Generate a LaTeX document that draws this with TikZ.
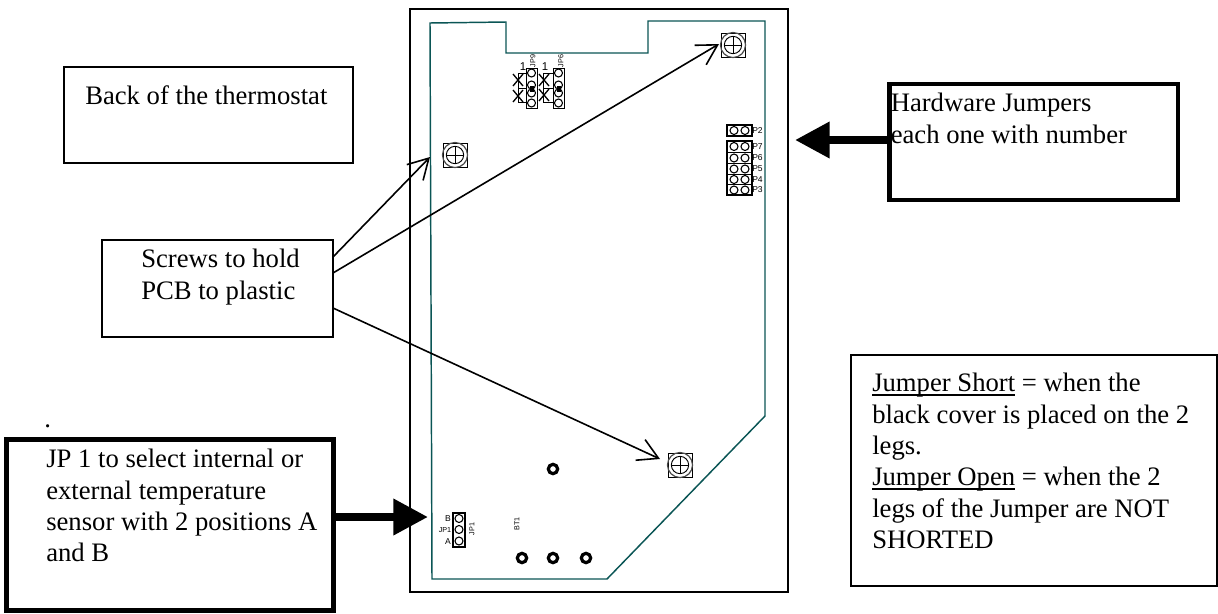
\documentclass[tikz,border=0pt]{standalone}
\usepackage{fontspec}
\setmainfont{Liberation Serif}
\setsansfont{Liberation Sans}
\usetikzlibrary{arrows.meta}
\definecolor{pcb}{RGB}{10,85,85}
\tikzset{
  x=0.75pt,y=-0.75pt,
  thinbox/.style={draw=black,line width=1.2pt,inner sep=0,outer sep=0,fill=white},
  thickbox/.style={draw=black,line width=3.4pt,inner sep=0,outer sep=0,fill=white},
  label/.style={inner sep=0,anchor=north west,align=left,font=\fontsize{20}{23.5}\selectfont},
  pointer/.style={draw=black,line width=1.2pt,-{Straight Barb[length=15pt,width=17pt,line width=1.2pt]}},
  bigpointer/.style={draw=black,line width=6pt,-{Triangle[length=26pt,width=26pt,fill=black]}},
  pcbline/.style={draw=pcb,line width=1.1pt},
  part/.style={draw=black,line width=0.7pt},
  pin/.style={draw=black,line width=0.8pt,circle,minimum size=6pt,inner sep=0},
  hole/.style={draw=black,line width=2.4pt,circle,minimum size=7pt,inner sep=0},
  silk/.style={inner sep=0,font=\sffamily\fontsize{5.4}{6}\selectfont},
  silkb/.style={inner sep=0,font=\sffamily\fontsize{6.4}{7}\selectfont},
  xmark/.style={draw=black,line width=1pt},
}
\newcommand{\heavyul}[1]{\setbox0\hbox{#1}\rlap{\vrule height -1.8pt depth 3pt width\wd0}\box0\relax}
\newcommand{\screw}[3]{%
  \draw[part] (#2-12,#3-12) rectangle (#2+12,#3+12);
  \draw[draw=black!70,line width=0.9pt] (#2,#3) circle[radius=9.4pt];
  \node[draw=black,line width=0.7pt,circle,minimum size=13pt,inner sep=0] (#1) at (#2,#3) {};
  \draw[part] (#2,#3-9) -- (#2,#3+9) (#2-9,#3) -- (#2+9,#3);
}
\newcommand{\crossmark}[2]{\draw[xmark] (#1-5,#2-6) -- (#1+5,#2+6) (#1-5,#2+6) -- (#1+5,#2-6);}
\newcommand{\pinrow}[2]{%
  \node[pin] at (734,#1) {};\node[pin] at (745,#1) {};
  \node[silkb,anchor=west] at (752,#1) {#2};
}
\begin{document}
\begin{tikzpicture}
\useasboundingbox (0,0) rectangle (1218,614);
% enclosure and PCB outline
\draw[line width=1.2pt] (410,9) rectangle (788,592);
\draw[pcbline] (430,23) -- (506,22) -- (506,53) -- (648,53) -- (648,21) -- (765,21) -- (765,416) -- (607,579) -- (432,579) -- cycle;
% screws
\screw{s1}{455}{155}
\screw{s2}{733}{45}
\screw{s3}{680}{465}
% holes
\node[hole] (h1) at (553,469) {};
\node[hole] (h2) at (522,558) {};
\node[hole] (h3) at (553,558) {};
\node[hole] (h4) at (586,558) {};
\node[silk,rotate=90] (bt) at (517,524) {BT1};
% JP9 and JP6
\draw[part] (526,68) rectangle (537,108);
\draw[part] (553,68) rectangle (564,108);
\draw[part] (518,73) -- (526,73) (518,88) -- (526,88) (518,102) -- (526,102) (518,73) -- (518,102);
\draw[part] (543,73) -- (553,73) (543,88) -- (553,88) (543,102) -- (553,102) (543,73) -- (543,102);
\foreach \cx in {531.5,558.5}{
  \node[pin] at (\cx,73) {};
  \node[pin] at (\cx,85) {};
  \node[pin] at (\cx,103) {};
  \node[pin] at (\cx,93) {};
  \draw[black,line width=3pt] (\cx,86) -- (\cx,92);
}
\crossmark{518}{80}\crossmark{518}{96}\crossmark{544}{80}\crossmark{544}{95}
\node[silk,rotate=90] (j9) at (533,61) {JP9};
\node[silk,rotate=90] (j6) at (561,61) {JP6};
\node[silk,font=\sffamily\fontsize{8.5}{9}\selectfont] (o1) at (523,67) {1};
\node[silk,font=\sffamily\fontsize{8.5}{9}\selectfont] (o2) at (545,67) {1};
% P block
\draw[part,line width=0.9pt] (727,125) rectangle (752,136);
\draw[part,line width=0.9pt] (727,141) rectangle (752,195);
\draw[part] (727,152) -- (752,152) (727,163.5) -- (752,163.5) (727,174.5) -- (752,174.5) (727,184.5) -- (752,184.5);
\pinrow{130.5}{P2}
\pinrow{146.5}{P7}
\pinrow{158}{P6}
\pinrow{169}{P5}
\pinrow{179.5}{P4}
\pinrow{190}{P3}
% JP1
\draw[part,line width=0.9pt] (453,513) rectangle (465,547);
\node[pin] at (459,518.5) {};
\node[pin] at (459,529.5) {};
\node[pin] at (459,541) {};
\node[silkb] (jb) at (448,519) {B};
\node[silk] (jj) at (445,530) {JP1};
\node[silkb] (ja) at (448,542) {A};
\node[silk,rotate=90] (jr) at (472,529) {JP1};
% text boxes
\node[thinbox,minimum width=216.75pt,minimum height=72pt,anchor=north west] (back) at (64,67) {};
\node[label] (backt) at (85,85) {Back of the thermostat};
\node[thinbox,minimum width=173.25pt,minimum height=72.75pt,anchor=north west] (screws) at (102,240) {};
\node[label] (screwst) at (141,249) {Screws to hold\\PCB to plastic};
\node[thickbox,minimum width=216.4pt,minimum height=87pt,anchor=north west] (hw) at (889.5,84) {};
\node[label] (hwt) at (890.5,93) {Hardware Jumpers\\each one with number};
\node[thickbox,minimum width=245.25pt,minimum height=128.25pt,anchor=north west] (jp) at (6.5,439.5) {};
\node[label] (jpt) at (46,449) {JP 1 to select internal or\\external temperature\\sensor with 2 positions A\\and B};
\node[thinbox,minimum width=274.5pt,minimum height=173.25pt,anchor=north west] (js) at (851,355) {};
\node[label] (jst) at (872,373) {\heavyul{Jumper Short} = when the\\black cover is placed on the 2\\legs.\\\heavyul{Jumper Open} = when the 2\\legs of the Jumper are NOT\\SHORTED};
\node[label,anchor=base west] (dot) at (44,427) {.};
% connectors
\coordinate (a1) at (333,257);
\coordinate (a2) at (333,273);
\coordinate (a3) at (333,308);
\coordinate (t1) at (430,157);
\coordinate (t2) at (719,44);
\coordinate (t3) at (660,459);
\draw[pointer] (a1) -- (t1);
\draw[pointer] (a2) -- (t2);
\draw[pointer] (a3) -- (t3);
\coordinate (bh) at (795,140);
\coordinate (bj) at (428,517);
\draw[bigpointer] (hw.west |- bh) -- (bh);
\draw[bigpointer] (jp.east |- bj) -- (bj);
\end{tikzpicture}
\end{document}
